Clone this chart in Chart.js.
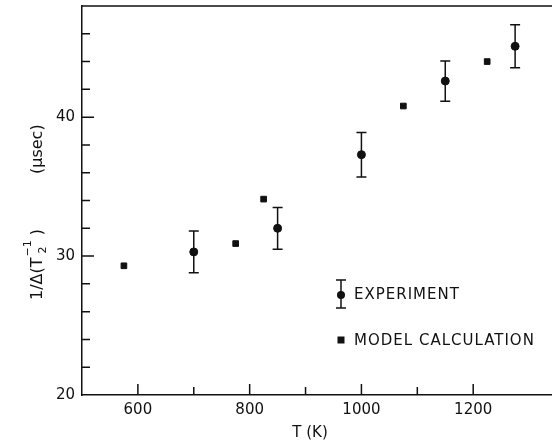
<!DOCTYPE html>
<html>
<head>
<meta charset="utf-8">
<script src="https://cdn.jsdelivr.net/npm/chart.js@4/dist/chart.umd.min.js"></script>
<style>
  html, body { margin: 0; padding: 0; background: #fff; }
  #wrap { width: 552px; height: 445px; }
</style>
</head>
<body>
<div id="wrap"><canvas id="myChart" width="552" height="445"></canvas></div>
<script>
// measured points with their uncertainty
var expT = [700, 850, 1000, 1150, 1275];
var expVal = [30.3, 32.0, 37.3, 42.6, 45.1];
var expErr = [1.5, 1.5, 1.6, 1.45, 1.55];

// model results
var modelT = [575, 775, 825, 1075, 1225];
var modelVal = [29.3, 30.9, 34.1, 40.8, 44.0];

var xLabels = [600, 800, 1000, 1200];
var yLabels = [20, 30, 40];

var ink = '#111';
var font = 'DejaVu Sans, sans-serif';

var errorBars = {
  id: 'errorBars',
  afterDatasetsDraw: function (chart) {
    var ctx = chart.ctx;
    var y = chart.scales.y;
    var meta = chart.getDatasetMeta(0);
    ctx.save();
    ctx.strokeStyle = ink;
    ctx.lineWidth = 1.5;
    meta.data.forEach(function (pt, i) {
      var top = y.getPixelForValue(expVal[i] + expErr[i]);
      var bot = y.getPixelForValue(expVal[i] - expErr[i]);
      ctx.beginPath();
      ctx.moveTo(pt.x, top); ctx.lineTo(pt.x, bot);
      ctx.moveTo(pt.x - 5, top); ctx.lineTo(pt.x + 5, top);
      ctx.moveTo(pt.x - 5, bot); ctx.lineTo(pt.x + 5, bot);
      ctx.stroke();
    });
    ctx.restore();
  }
};

// inward tick marks, top frame line, titles and legend
var frame = {
  id: 'frame',
  afterDraw: function (chart) {
    var ctx = chart.ctx;
    var a = chart.chartArea;
    var xs = chart.scales.x, ys = chart.scales.y;
    ctx.save();
    ctx.strokeStyle = ink;
    ctx.lineWidth = 1.5;
    ctx.beginPath();
    ctx.moveTo(a.left, a.top); ctx.lineTo(a.right, a.top);
    xs.ticks.forEach(function (t) {
      if (t.value % 100 !== 0 || t.value <= xs.min) return;
      var px = xs.getPixelForValue(t.value);
      var len = t.value % 200 === 0 ? 11 : 8;
      ctx.moveTo(px, a.bottom); ctx.lineTo(px, a.bottom - len);
    });
    ys.ticks.forEach(function (t) {
      if (t.value <= ys.min || t.value >= ys.max) return;
      var py = ys.getPixelForValue(t.value);
      var len = t.value % 10 === 0 ? 12 : 8;
      ctx.moveTo(a.left, py); ctx.lineTo(a.left + len, py);
    });
    ctx.stroke();

    ctx.fillStyle = ink;
    ctx.font = '15px ' + font;
    ctx.textAlign = 'center';
    ctx.textBaseline = 'middle';
    ctx.fillText('T (K)', 310, 433);

    // y title with stacked sub/superscript on T
    ctx.save();
    ctx.translate(36, 210);
    ctx.rotate(-Math.PI / 2);
    ctx.textAlign = 'left';
    ctx.textBaseline = 'alphabetic';
    var bx = -90, base = 6;
    ctx.font = '16px ' + font;
    var head = '1/\u0394(T';
    ctx.fillText(head, bx, base);
    bx += ctx.measureText(head).width + 1;
    ctx.font = '11px ' + font;
    ctx.fillText('2', bx + 3, base + 4);
    ctx.fillText('\u22121', bx, base - 11);
    bx += ctx.measureText('\u22121').width + 5;
    ctx.font = '16px ' + font;
    ctx.fillText(')', bx, base);
    ctx.fillText('(\u03BCsec)', 36, base);
    ctx.restore();

    // legend
    ctx.beginPath();
    ctx.moveTo(341, 280); ctx.lineTo(341, 308);
    ctx.moveTo(336, 280); ctx.lineTo(346, 280);
    ctx.moveTo(336, 308); ctx.lineTo(346, 308);
    ctx.stroke();
    ctx.beginPath();
    ctx.arc(341, 295, 4, 0, Math.PI * 2);
    ctx.fill();
    ctx.fillRect(337.5, 336.5, 7, 7);
    ctx.font = '15px ' + font;
    ctx.letterSpacing = '1px';
    ctx.textAlign = 'left';
    ctx.fillText('EXPERIMENT', 354, 295);
    ctx.fillText('MODEL CALCULATION', 354, 341);
    ctx.restore();
  }
};

var chartData = {
  datasets: [
    {
      label: 'EXPERIMENT',
      data: expT.map(function (t, i) { return { x: t, y: expVal[i] }; }),
      showLine: false,
      pointStyle: 'circle',
      pointRadius: 4,
      backgroundColor: ink,
      borderColor: ink
    },
    {
      label: 'MODEL CALCULATION',
      data: modelT.map(function (t, i) { return { x: t, y: modelVal[i] }; }),
      showLine: false,
      pointStyle: 'rect',
      pointRadius: 4,
      backgroundColor: ink,
      borderColor: ink
    }
  ]
};

var chart = document.getElementById('myChart').getContext('2d');
var myChart = new Chart(chart, {
  type: 'scatter',
  data: chartData,
  plugins: [errorBars, frame],
  options: {
    responsive: false,
    animation: false,
    layout: { autoPadding: false, padding: { top: 6, right: 0, left: 0, bottom: 0 } },
    plugins: {
      legend: { display: false },
      tooltip: { enabled: false }
    },
    scales: {
      x: {
        type: 'linear',
        min: 500,
        max: 1341,
        afterFit: function (s) {
          s.height = 50;
          s.paddingLeft = 0;
          s.paddingRight = 0;
        },
        grid: { display: false, drawTicks: false },
        border: { display: true, color: ink, width: 1.5 },
        ticks: {
          stepSize: 100,
          autoSkip: false,
          maxRotation: 0,
          padding: 6,
          color: ink,
          font: { family: font, size: 15 },
          callback: function (v) { return xLabels.indexOf(v) >= 0 ? v : ''; }
        }
      },
      y: {
        min: 20,
        max: 48,
        afterFit: function (s) {
          s.width = 82;
          s.paddingTop = 0;
          s.paddingBottom = 0;
        },
        grid: { display: false, drawTicks: false },
        border: { display: true, color: ink, width: 1.5 },
        ticks: {
          stepSize: 2,
          autoSkip: false,
          padding: 7,
          color: ink,
          font: { family: font, size: 15 },
          callback: function (v) { return yLabels.indexOf(v) >= 0 ? v : ''; }
        }
      }
    }
  }
});
</script>
</body>
</html>
